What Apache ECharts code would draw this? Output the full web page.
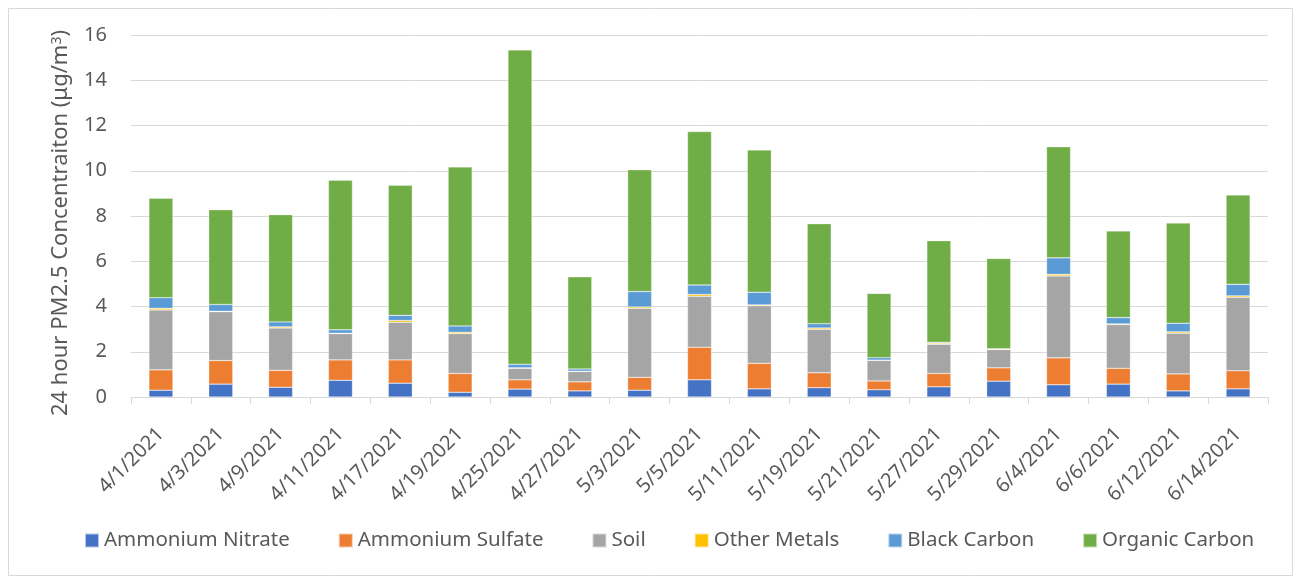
<!DOCTYPE html>
<html>
<head>
<meta charset="utf-8">
<script src="https://cdn.jsdelivr.net/npm/echarts@6/dist/echarts.min.js"></script>
<style>
html,body{margin:0;padding:0;background:#fff;}
#c{width:1297px;height:580px;}
</style>
</head>
<body>
<div id="c"></div>
<script>
var categories = ['4/1/2021','4/3/2021','4/9/2021','4/11/2021','4/17/2021','4/19/2021','4/25/2021','4/27/2021','5/3/2021','5/5/2021','5/11/2021','5/19/2021','5/21/2021','5/27/2021','5/29/2021','6/4/2021','6/6/2021','6/12/2021','6/14/2021'];
var ammoniumNitrate = [0.30,0.57,0.43,0.74,0.61,0.21,0.35,0.27,0.30,0.76,0.36,0.41,0.32,0.45,0.70,0.54,0.57,0.27,0.36];
var ammoniumSulfate = [0.90,1.04,0.75,0.90,1.03,0.83,0.41,0.40,0.57,1.44,1.13,0.66,0.39,0.59,0.59,1.19,0.70,0.75,0.80];
var soil = [2.65,2.16,1.87,1.16,1.66,1.76,0.51,0.46,3.05,2.25,2.54,1.92,0.91,1.29,0.81,3.62,1.93,1.80,3.25];
var otherMetals = [0.07,0.02,0.05,0.02,0.08,0.06,0.02,0.01,0.06,0.08,0.04,0.06,0.01,0.05,0.01,0.07,0.03,0.06,0.06];
var blackCarbon = [0.47,0.30,0.22,0.15,0.23,0.28,0.16,0.10,0.68,0.42,0.56,0.19,0.11,0.04,0.02,0.73,0.28,0.38,0.51];
var organicCarbon = [4.39,4.19,4.74,6.61,5.75,7.03,13.89,4.07,5.38,6.78,6.29,4.42,2.84,4.49,3.99,4.91,3.83,4.43,3.95];
var yTicks = {min: 0, max: 16, interval: 2};

var seriesDefs = [
  ['Ammonium Nitrate', ammoniumNitrate, '#4472C4'],
  ['Ammonium Sulfate', ammoniumSulfate, '#ED7D31'],
  ['Soil', soil, '#A5A5A5'],
  ['Other Metals', otherMetals, '#FFC000'],
  ['Black Carbon', blackCarbon, '#5B9BD5'],
  ['Organic Carbon', organicCarbon, '#70AD47']
];

var FONT = 'Noto Sans';
var chart = echarts.init(document.getElementById('c'), null, {renderer: 'canvas'});
chart.setOption({
  animation: false,
  backgroundColor: '#fff',
  color: seriesDefs.map(function(s){return s[2];}),
  graphic: [{
    type: 'rect', left: 6, top: 6, silent: true,
    shape: {x: 0, y: 0, width: 1284, height: 567},
    style: {fill: 'none', stroke: '#d9d9d9', lineWidth: 1}
  }],
  grid: {left: 131, right: 29, top: 35, bottom: 183, containLabel: false},
  legend: {
    left: 84, top: 530, padding: 0,
    itemWidth: 14, itemHeight: 14, itemGap: 48,
    icon: 'rect',
    textStyle: {fontFamily: FONT, fontSize: 20.5, color: '#595959'},
    data: seriesDefs.map(function(s){return s[0];})
  },
  xAxis: {
    type: 'category',
    data: categories,
    boundaryGap: true,
    axisLine: {show: true, lineStyle: {color: '#d9d9d9', width: 1}},
    axisTick: {show: true, length: 7, lineStyle: {color: '#d9d9d9'}},
    axisLabel: {rotate: 45, margin: 34, padding: [28, 0, 0, 0], interval: 0, fontFamily: FONT, fontSize: 20, color: '#595959'}
  },
  yAxis: {
    type: 'value',
    min: yTicks.min, max: yTicks.max, interval: yTicks.interval,
    axisLine: {show: false},
    axisTick: {show: false},
    splitLine: {lineStyle: {color: '#d9d9d9', width: 1}},
    axisLabel: {margin: 24, fontFamily: FONT, fontSize: 20, color: '#595959'},
    name: '24 hour PM2.5 Concentraiton (μg/m{sup|3})',
    nameLocation: 'middle',
    nameGap: 57,
    nameTextStyle: {
      fontFamily: FONT, fontSize: 22, color: '#595959', padding: [0, 14, 0, 0],
      rich: {sup: {fontFamily: FONT, fontSize: 14, color: '#595959', verticalAlign: 'top', lineHeight: 12, padding: [0,0,9,0]}}
    }
  },
  series: seriesDefs.map(function(s){
    return {
      name: s[0], type: 'bar', stack: 'total', data: s[1],
      barWidth: 24,
      itemStyle: {color: s[2], borderColor: 'rgba(255,255,255,0.6)', borderWidth: 0.5}
    };
  })
});
</script>
</body>
</html>
